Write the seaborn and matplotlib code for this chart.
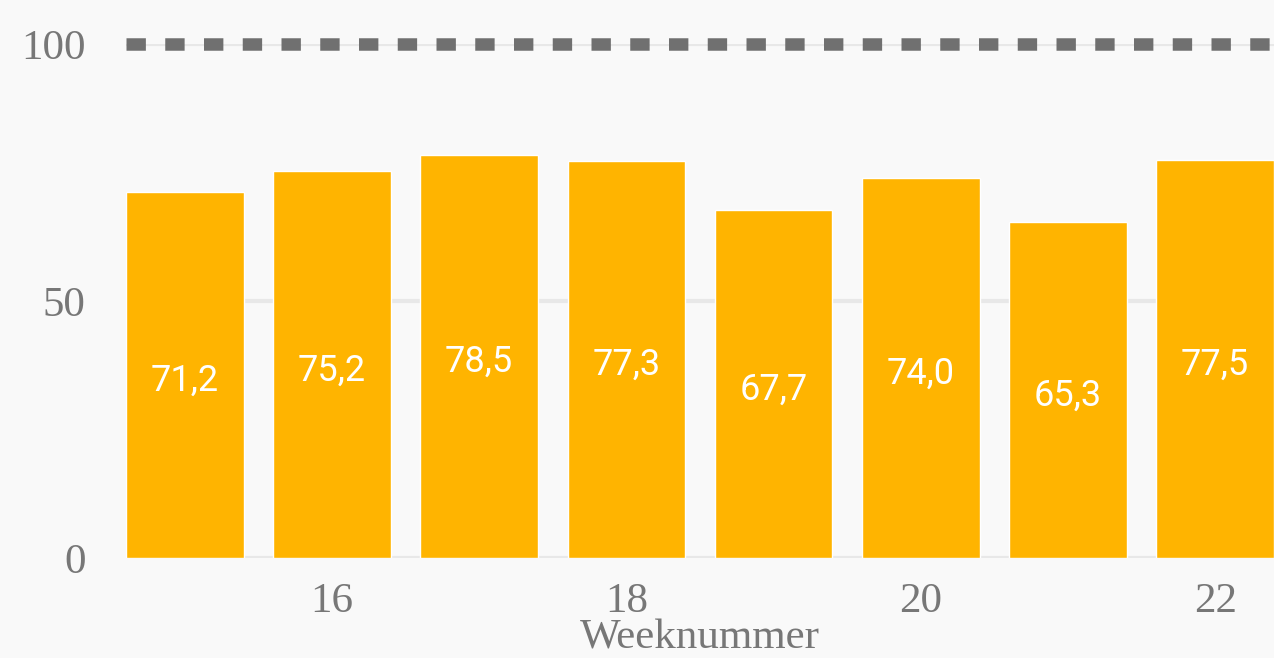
import matplotlib
matplotlib.use("Agg")
import matplotlib.pyplot as plt
import seaborn as sns
import pandas as pd

weeks = [15, 16, 17, 18, 19, 20, 21, 22]
values = [71.2, 75.2, 78.5, 77.3, 67.7, 74.0, 65.3, 77.5]
xticks = [16, 18, 20, 22]
yticks = [0, 50, 100]
target = 100
xlabel = "Weeknummer"

df = pd.DataFrame({"week": weeks, "value": values})

sns.set_theme(style="white")
plt.rcParams['font.family'] = ['Liberation Serif', 'DejaVu Serif']

bg = "#f9f9f9"
fig = plt.figure(figsize=(12.74, 6.58), dpi=100, facecolor=bg)
ax = fig.add_axes([126/1274, 100/658, 1 - 126/1274, 514/658])
ax.set_facecolor(bg)

sns.barplot(data=df, x="week", y="value", native_scale=True, color="#FFB400",
            saturation=1, width=0.8, ax=ax, zorder=3)

ax.set_xlim(14.6, 22.4)
ax.set_ylim(0, 100)
ax.set_yticks(yticks)
ax.set_xticks(xticks)
ax.set_xticklabels([str(t) for t in xticks])
ax.yaxis.grid(True, color="#e8e8e8", linewidth=3, zorder=0)
ax.set_axisbelow(True)
for s in ax.spines.values():
    s.set_visible(False)
ax.tick_params(axis="both", length=0, labelsize=31, labelcolor="#777777")
ax.tick_params(axis="y", pad=29)
ax.tick_params(axis="x", pad=18)
ax.set_xlabel(xlabel, fontsize=31, color="#777777", labelpad=-2)
ax.set_ylabel("")

ax.axhline(target, color="#707070", linewidth=9, dashes=(1.55, 1.55), zorder=4, clip_on=False)

labels = [f"{v:.1f}".replace(".", ",") for v in values]
anns = ax.bar_label(ax.containers[0], labels=labels, label_type="center", color="white",
                    fontsize=26, family="Roboto")
for a in anns:
    a.xyann = (0, -4)

fig.savefig("out.png", dpi=100, facecolor=bg)
